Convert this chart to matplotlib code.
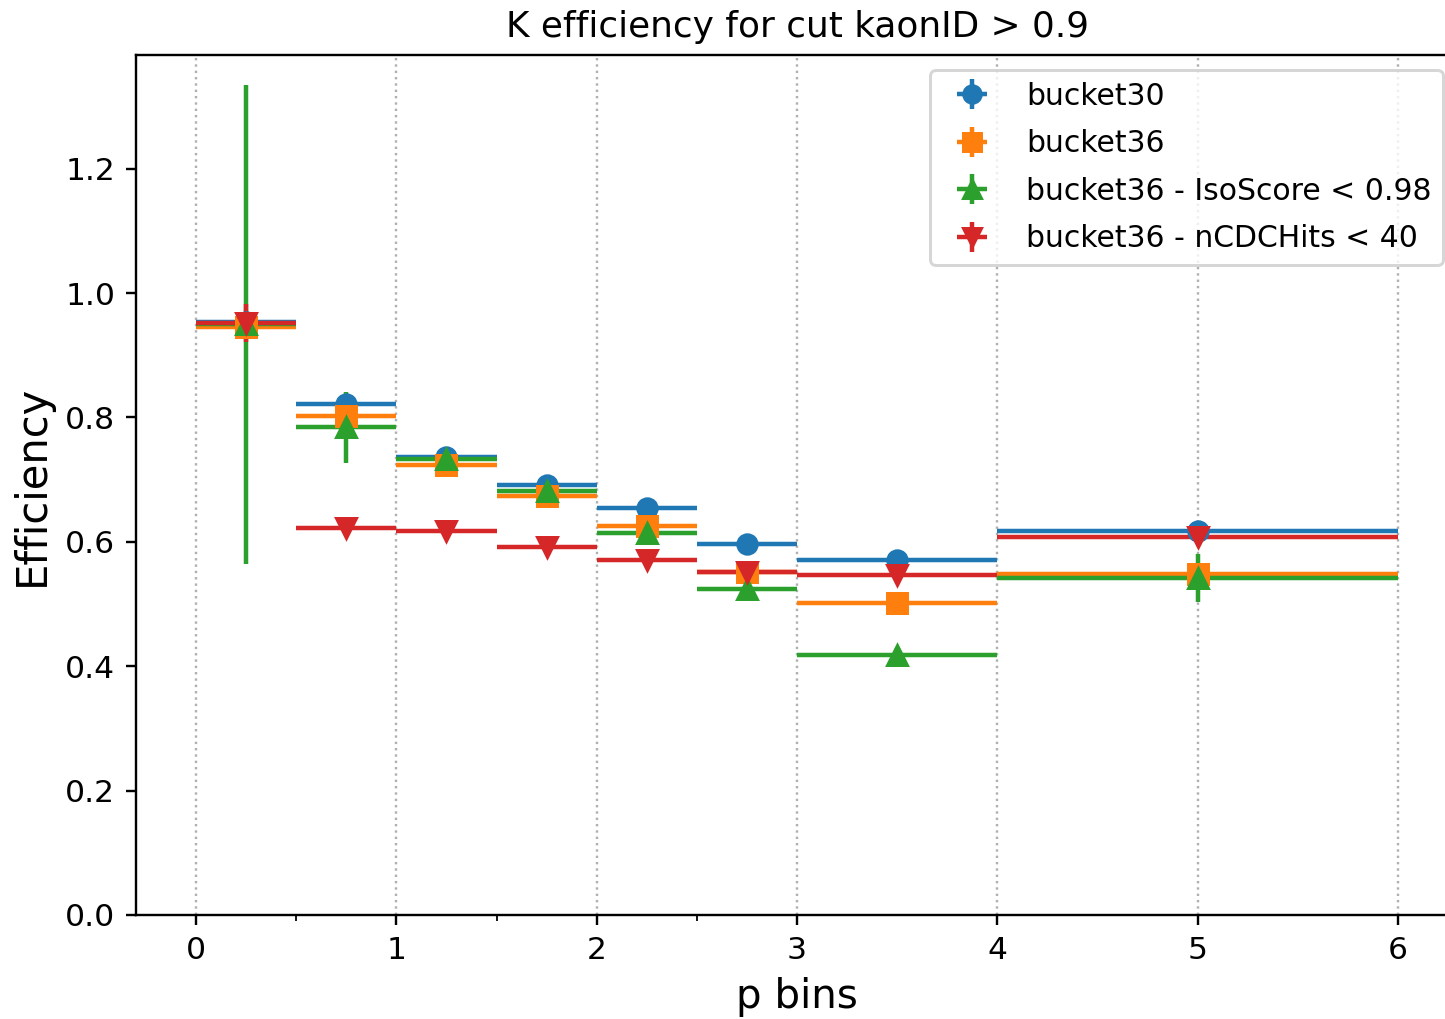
import numpy as np
import matplotlib
matplotlib.use("Agg")
import matplotlib.pyplot as plt

# p bin edges and centres
bin_edges = [0, 0.5, 1, 1.5, 2, 2.5, 3, 4, 6]
bin_centers = [0.25, 0.75, 1.25, 1.75, 2.25, 2.75, 3.5, 5.0]
bin_half = [0.25, 0.25, 0.25, 0.25, 0.25, 0.25, 0.5, 1.0]

labels = ['bucket30', 'bucket36', 'bucket36 - IsoScore < 0.98', 'bucket36 - nCDCHits < 40']

eff_b30 = [0.954, 0.821, 0.737, 0.692, 0.654, 0.596, 0.570, 0.617]
err_b30 = [0.010, 0.006, 0.005, 0.005, 0.005, 0.005, 0.006, 0.008]

eff_b36 = [0.946, 0.802, 0.723, 0.674, 0.625, 0.551, 0.501, 0.548]
err_b36 = [0.012, 0.008, 0.006, 0.006, 0.006, 0.006, 0.008, 0.010]

eff_iso = [0.950, 0.784, 0.734, 0.682, 0.614, 0.524, 0.418, 0.542]
err_iso = [0.385, 0.057, 0.010, 0.010, 0.012, 0.012, 0.012, 0.039]

eff_cdc = [0.952, 0.622, 0.617, 0.591, 0.571, 0.552, 0.547, 0.608]
err_cdc = [0.031, 0.008, 0.006, 0.006, 0.006, 0.007, 0.008, 0.012]

series = [eff_b30, eff_b36, eff_iso, eff_cdc]
errors = [err_b30, err_b36, err_iso, err_cdc]
markers = ['o', 's', '^', 'v']

fig = plt.figure(figsize=(1445 / 215, 1019 / 215), dpi=215)
ax = fig.add_axes([0.0941, 0.1021, 0.915, 0.844])

for i in range(4):
    ax.errorbar(bin_centers, series[i], xerr=bin_half, yerr=errors[i],
                fmt=markers[i], markersize=6.5, label=labels[i])

ax.set_xlim(-0.3, 6.3)
ax.set_ylim(0, 1.383)
ax.set_xticks([0, 1, 2, 3, 4, 5, 6])
ax.set_xticks(bin_edges, minor=True)
ax.tick_params(labelsize=10.5)
ax.xaxis.grid(True, linestyle=':')

ax.set_xlabel('p bins', fontsize=13.5)
ax.set_ylabel('Efficiency', fontsize=14)
ax.set_title('K efficiency for cut kaonID > 0.9', fontsize=12)
ax.legend(loc='upper right', fontsize=10, labelspacing=0.62, markerscale=0.9)

fig.savefig('out.png', dpi=215)
